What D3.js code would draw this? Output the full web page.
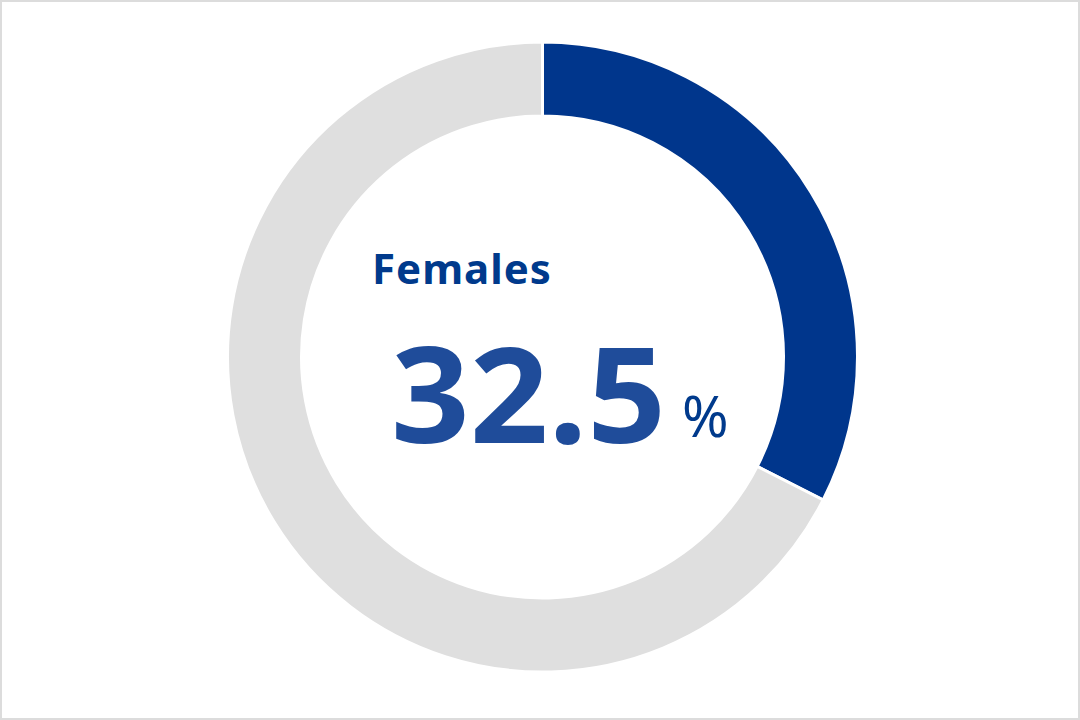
<!DOCTYPE html>
<html><head><meta charset="utf-8">
<script src="https://cdn.jsdelivr.net/npm/d3@7"></script>
<style>html,body{margin:0;padding:0;background:#fff;}svg{display:block;}</style>
</head><body>
<svg id="c" width="1080" height="720"></svg>
<script>
const categories = ["Females", "Males"];
const values = [32.5, 67.5];
const colors = ["#00368c", "#dfdfdf"];
const label = "Females";
const valueText = "32.5";
const unitText = "%";

const svg = d3.select("#c");
svg.append("rect").attr("x",1).attr("y",1).attr("width",1078).attr("height",718)
  .attr("fill","#fff").attr("stroke","#dcdcdc").attr("stroke-width",2);

const cx = 542.5, cy = 357;
const g = svg.append("g").attr("transform",`translate(${cx},${cy})`);
const pie = d3.pie().sort(null).value(d=>d);
const arc = d3.arc().innerRadius(241).outerRadius(315);
g.selectAll("path").data(pie(values)).join("path")
  .attr("d",arc).attr("fill",(d,i)=>colors[i])
  .attr("stroke","#fff").attr("stroke-width",3);

svg.append("text").attr("x",372).attr("y",284)
  .attr("font-family","'Noto Sans', sans-serif").attr("font-weight","bold")
  .attr("font-size",42).attr("letter-spacing",1).attr("fill","#003a8c").text(label);
svg.append("text").attr("x",391).attr("y",443)
  .attr("font-family","'Noto Sans', sans-serif").attr("font-weight","bold")
  .attr("font-size",132).attr("fill","#1f4c9a").attr("textLength",275).attr("lengthAdjust","spacingAndGlyphs").text(valueText);
svg.append("text").attr("x",682).attr("y",437)
  .attr("font-family","'Noto Sans', sans-serif").attr("font-weight","normal")
  .attr("font-size",56).attr("fill","#003a8c").text(unitText);
</script>
</body></html>
